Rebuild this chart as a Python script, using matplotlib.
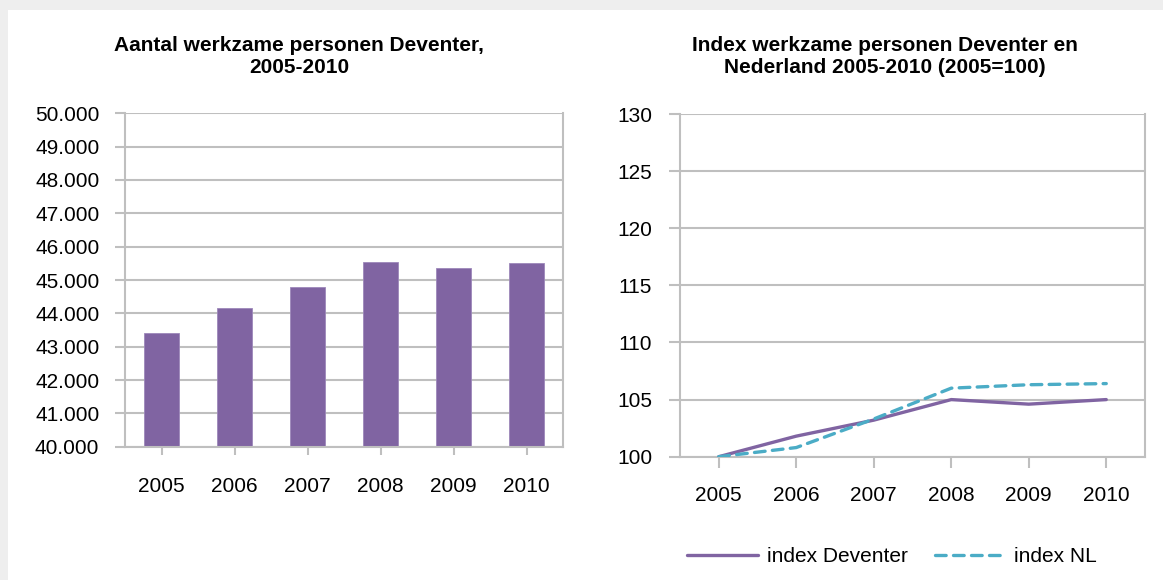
import matplotlib.pyplot as plt
import matplotlib.ticker as mticker
from matplotlib.patches import Rectangle
import numpy as np

plt.rcParams['font.family'] = ['Liberation Sans', 'DejaVu Sans']

# Data
years = ['2005', '2006', '2007', '2008', '2009', '2010']
werkzaam = [43400, 44170, 44780, 45550, 45370, 45500]
index_deventer = [100.0, 101.8, 103.2, 105.0, 104.6, 105.0]
index_nl = [100.0, 100.8, 103.3, 106.0, 106.3, 106.4]

PURPLE = '#8064A2'
CYAN = '#4BACC6'
GRID = '#BFBFBF'

fig = plt.figure(figsize=(11.63, 5.80), dpi=100)
fig.patch.set_facecolor('#eeeeee')
# white card with a soft grey strip at the top/left edges
fig.add_artist(Rectangle((8 / 1163, 0), 1, 1 - 10 / 580, transform=fig.transFigure,
                         facecolor='white', edgecolor='none', zorder=-5))


def style_axes(ax):
    ax.set_facecolor('white')
    for side in ['top', 'right', 'left', 'bottom']:
        ax.spines[side].set_color(GRID)
        ax.spines[side].set_linewidth(1.5)
    ax.spines['top'].set_visible(False)
    ax.grid(True, axis='y', color=GRID, linewidth=1.5)
    ax.set_axisbelow(True)
    ax.tick_params(axis='both', colors=GRID, labelcolor='black', width=1.5,
                   labelsize=15)


# Left: bar chart
ax1 = fig.add_axes([125 / 1163, 1 - 446.7 / 580, 438 / 1163, (446.7 - 113.3) / 580])
x = np.arange(len(years))
ax1.bar(x, werkzaam, width=0.49, color=PURPLE, edgecolor='#9d88ba', linewidth=0.6, zorder=2)
ax1.set_xlim(-0.5, len(years) - 0.5)
ax1.set_ylim(40000, 50000)
ax1.yaxis.set_major_locator(mticker.MultipleLocator(1000))
ax1.yaxis.set_major_formatter(mticker.FuncFormatter(lambda v, p: f'{int(v):,}'.replace(',', '.')))
ax1.set_xticks(x)
ax1.set_xticklabels(years)
style_axes(ax1)
ax1.tick_params(axis='x', length=6, pad=15.5)
ax1.tick_params(axis='y', length=7, pad=11.5)

# Right: index lines
ax2 = fig.add_axes([680 / 1163, 1 - 456.7 / 580, 465 / 1163, (456.7 - 114) / 580])
ax2.plot(x, index_deventer, color=PURPLE, linewidth=2.4, solid_capstyle='round',
         label='index Deventer', zorder=3)
ax2.plot(x, index_nl, color=CYAN, linewidth=2.4, linestyle=(0, (3.2, 2.2)),
         dash_capstyle='round', label='index NL', zorder=3)
ax2.set_xlim(-0.5, len(years) - 0.5)
ax2.set_ylim(100, 130)
ax2.yaxis.set_major_locator(mticker.MultipleLocator(5))
ax2.set_xticks(x)
ax2.set_xticklabels(years)
style_axes(ax2)
ax2.tick_params(axis='x', length=8, pad=13)
ax2.tick_params(axis='y', length=8, pad=12)

# titles are centred on the chart area (Excel style), not on the plot area
fig.text(299 / 1163, 1 - 73 / 580, 'Aantal werkzame personen Deventer,\n2005-2010',
         ha='center', va='baseline', fontsize=15, fontweight='bold', linespacing=1.2)
fig.text(885 / 1163, 1 - 73 / 580, 'Index werkzame personen Deventer en\nNederland 2005-2010 (2005=100)',
         ha='center', va='baseline', fontsize=15, fontweight='bold', linespacing=1.2)

fig.legend(*ax2.get_legend_handles_labels(), loc='center', ncol=2,
           bbox_to_anchor=(892 / 1163, 1 - 557 / 580), frameon=False,
           fontsize=15, handlelength=3.4, columnspacing=1.3, handletextpad=0.4)

fig.savefig('out.png', dpi=100, facecolor=fig.get_facecolor())
